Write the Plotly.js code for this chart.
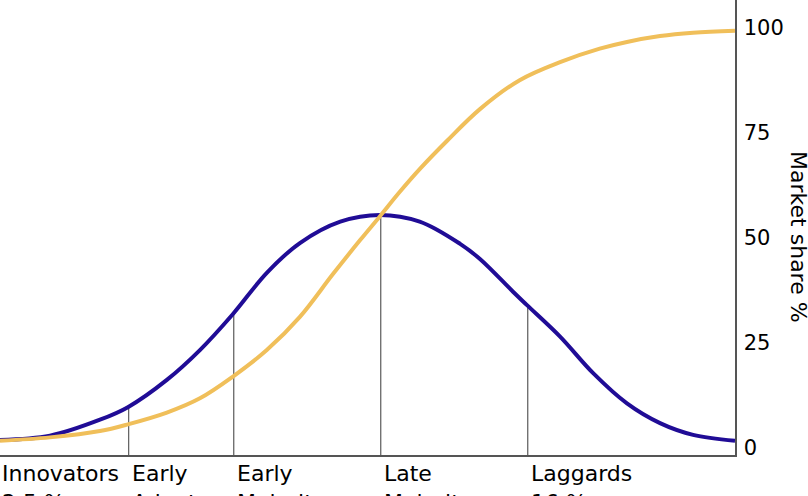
<!DOCTYPE html>
<html>
<head>
<meta charset="utf-8">
<script src="https://cdn.plot.ly/plotly-3.0.1.min.js"></script>
<style>html,body{margin:0;padding:0;background:#fff;}#chart{width:808px;height:496px;}</style>
</head>
<body>
<div id="chart"></div>
<script>
// Adoption (bell) curve
const adoptionX = [0, 6.8, 13.6, 17.4, 22.7, 27.2, 31.7, 36.3, 40.8, 46.3, 51.7, 57.1, 62.6, 65.3, 69.8, 71.7, 76.2, 80.7, 85.3, 89.8, 94.3, 100];
const adoptionY = [1.9, 2.9, 6.7, 9.7, 16.2, 23.3, 31.9, 41.7, 48.8, 53.9, 55.5, 53.9, 48.6, 45.0, 37.2, 34.0, 26.5, 17.8, 10.6, 5.9, 3.1, 1.7];
// Market share (S) curve
const shareX = [0, 6.8, 13.6, 17.4, 22.7, 27.2, 31.7, 36.3, 40.8, 45.3, 49.0, 51.7, 54.4, 57.1, 60.8, 65.3, 70.7, 76.2, 81.6, 85.3, 89.8, 94.3, 100];
const shareY = [1.7, 2.5, 4.0, 5.6, 8.4, 11.8, 17.0, 23.3, 31.2, 41.4, 49.5, 55.2, 61.0, 66.4, 73.1, 80.7, 87.6, 91.9, 95.1, 96.7, 98.1, 98.9, 99.4];
// Category boundaries and curve height there
const boundaryX = [17.5, 31.8, 51.8, 71.8];
const boundaryY = [9.7, 31.9, 55.5, 34.0];
// Category labels
const categoryX = [0, 17.5, 31.8, 51.8, 71.8];
const categoryLabels = ["Innovators<br>2.5 %", "Early<br>Adopters<br>13.5 %", "Early<br>Majority<br>34 %", "Late<br>Majority<br>34 %", "Laggards<br>16 %"];
const yTicks = [0, 25, 50, 75, 100];
const yTitle = "Market share %";

const yMin = -1.7, yMax = 106.7;

const vx = [], vy = [];
boundaryX.forEach((b, i) => { vx.push(b, b, null); vy.push(yMin, boundaryY[i], null); });

const traces = [
  {x: vx, y: vy, mode: 'lines', line: {color: '#666', width: 1.3}, hoverinfo: 'skip', showlegend: false},
  {x: adoptionX, y: adoptionY, mode: 'lines', line: {color: '#200c96', width: 4, shape: 'spline', smoothing: 1}, showlegend: false},
  {x: shareX, y: shareY, mode: 'lines', line: {color: '#f0bf5a', width: 4, shape: 'spline', smoothing: 1}, showlegend: false}
];

const annotations = categoryX.map((cx, i) => ({
  x: cx, xref: 'x', y: 0, yref: 'paper', text: categoryLabels[i],
  xanchor: 'left', yanchor: 'top', align: 'left', showarrow: false,
  xshift: i === 0 ? 0 : 1, yshift: -4,
  font: {family: 'DejaVu Sans', size: 22, color: '#000'}
}));
annotations.push({
  x: 1.087, xref: 'paper', y: 0.479, yref: 'paper', text: yTitle, textangle: 90,
  xanchor: 'center', yanchor: 'middle', showarrow: false,
  font: {family: 'DejaVu Sans', size: 22, color: '#000'}
});

const layout = {
  width: 808, height: 496,
  margin: {l: 0, r: 73, t: 0, b: 41, pad: 0},
  paper_bgcolor: '#fff', plot_bgcolor: '#fff',
  font: {family: 'DejaVu Sans', size: 21, color: '#000'},
  xaxis: {range: [0, 100], showline: true, linecolor: '#555', linewidth: 1.5, showgrid: false, zeroline: false, showticklabels: false, ticks: ''},
  yaxis: {range: [yMin, yMax], side: 'right', showline: true, linecolor: '#555', linewidth: 1.5, showgrid: false, zeroline: false,
          tickmode: 'array', tickvals: yTicks, ticks: '', ticklabelstandoff: 3,
          tickfont: {family: 'DejaVu Sans', size: 21, color: '#000'}},
  annotations: annotations
};

Plotly.newPlot('chart', traces, layout, {displayModeBar: false, staticPlot: true});
</script>
</body>
</html>
